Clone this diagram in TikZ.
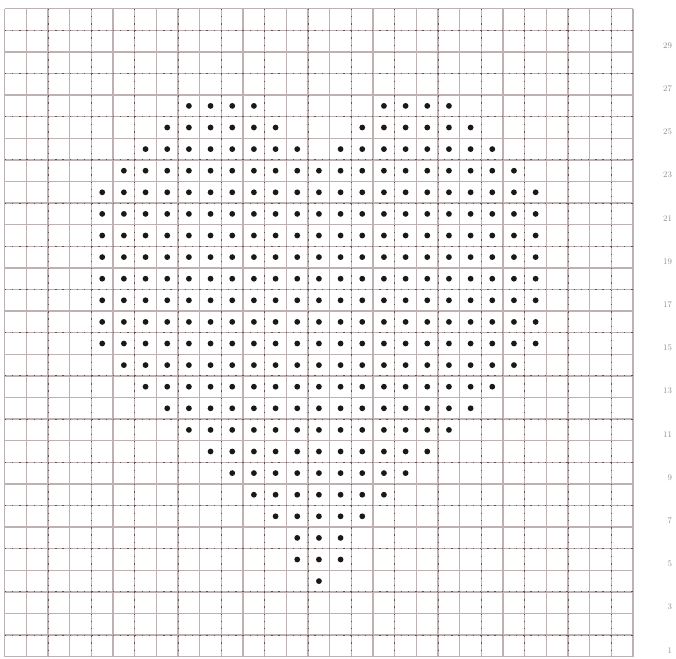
\documentclass[tikz,border=0pt]{standalone}
\usepackage{tikz}
\definecolor{gridline}{HTML}{BDB1B1}
\definecolor{gridmark}{HTML}{5C5050}
\definecolor{stitch}{HTML}{1C1818}
\definecolor{rowgray}{HTML}{8C8C8C}

\begin{document}
\begin{tikzpicture}[x=1pt,y=-1pt,every node/.style={font=\fontsize{8.5}{8.5}\selectfont}]
  \useasboundingbox (0,0) rectangle (676,658);
  \begin{scope}[shift={(4.7pt,-8.7pt)},x=21.67pt,y=-21.6pt]
    % plain grid
    \foreach \i in {0,...,29} \draw[gridline,line width=1.3pt] (\i,0) -- (\i,30);
    \foreach \j in {0,...,30} \draw[gridline,line width=1.3pt] (0,\j) -- (29,\j);
    % dotted marks on every second line
    \foreach \i in {2,4,...,28} \draw[gridmark,line width=0.9pt,dash pattern=on 1.5pt off 5.7pt] (\i,0) -- (\i,30);
    \foreach \j in {1,3,...,29} \draw[gridmark,line width=0.9pt,dash pattern=on 1.5pt off 5.7pt] (0,\j) -- (29,\j);
    % heart stitches: row/first/last column
    \foreach \r/\a/\b in {26/9/12, 26/18/21, 25/8/13, 25/17/22, 24/7/14, 24/16/23,
        23/6/24, 22/5/25, 21/5/25, 20/5/25, 19/5/25, 18/5/25, 17/5/25, 16/5/25, 15/5/25,
        14/6/24, 13/7/23, 12/8/22, 11/9/21, 10/10/20, 9/11/19, 8/12/18, 7/13/17,
        6/14/16, 5/14/16, 4/15/15}
      \foreach \c in {\a,...,\b}
        \fill[stitch] ({\c-0.5},{30.5-\r}) circle[radius=2.9pt];
    % row numbers
    \foreach \r in {1,3,...,29}
      \node[rowgray,anchor=east,inner sep=0pt] (row\r) at (30.8,{30.7-\r}) {\r};
  \end{scope}
\end{tikzpicture}
\end{document}
